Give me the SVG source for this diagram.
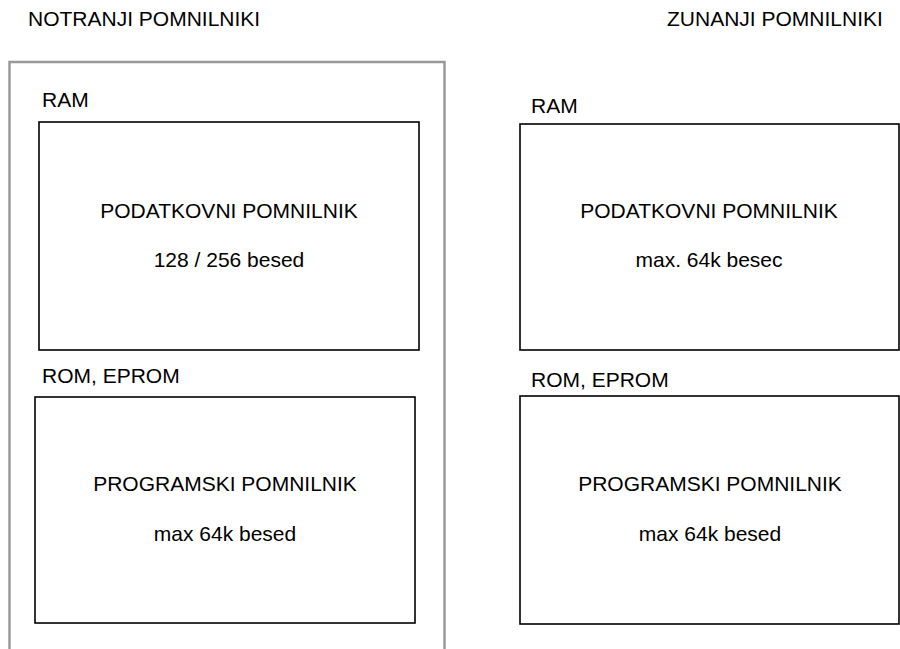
<svg xmlns="http://www.w3.org/2000/svg" width="900" height="649" viewBox="0 0 900 649">
<style>
text{font-family:"Liberation Sans",Arial,sans-serif;font-size:21px;fill:#000}
.c{text-anchor:middle}
.box{fill:#fff;stroke:#000;stroke-width:1.6}
.frame{fill:none;stroke:#999;stroke-width:2.5}
</style>
<rect width="900" height="649" fill="#fff"/>
<g id="internal">
<path class="frame" d="M9.5,660 V62 H444.5 V660"/>
<text x="28" y="26">NOTRANJI POMNILNIKI</text>
</g>
<g id="external-title">
<text x="667" y="26">ZUNANJI POMNILNIKI</text>
</g>
<g id="int-ram">
<text x="42" y="107">RAM</text>
<rect class="box" x="39" y="122" width="380" height="228"/>
<text class="c" x="229" y="218">PODATKOVNI POMNILNIK</text>
<text class="c" x="229" y="267">128 / 256 besed</text>
</g>
<g id="int-rom">
<text x="42" y="383">ROM, EPROM</text>
<rect class="box" x="35" y="397" width="380" height="226"/>
<text class="c" x="225" y="491">PROGRAMSKI POMNILNIK</text>
<text class="c" x="225" y="541">max 64k besed</text>
</g>
<g id="ext-ram">
<text x="531" y="113">RAM</text>
<rect class="box" x="520" y="124" width="379" height="226"/>
<text class="c" x="709" y="218">PODATKOVNI POMNILNIK</text>
<text class="c" x="709" y="267">max. 64k besec</text>
</g>
<g id="ext-rom">
<text x="531" y="387">ROM, EPROM</text>
<rect class="box" x="520" y="396" width="379" height="228"/>
<text class="c" x="710" y="491">PROGRAMSKI POMNILNIK</text>
<text class="c" x="710" y="541">max 64k besed</text>
</g>
<g id="connectors"></g>
</svg>
